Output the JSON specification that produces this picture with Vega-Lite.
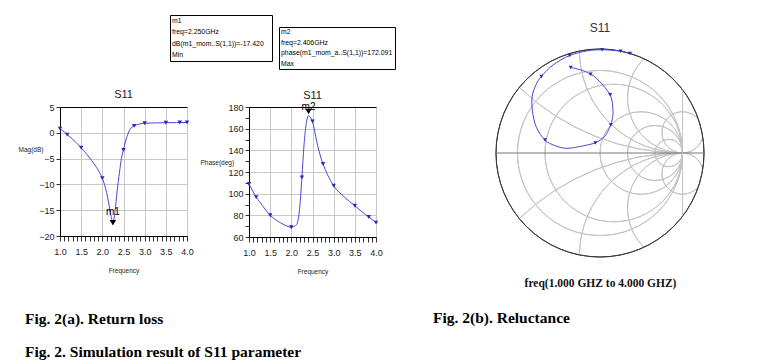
{
  "$schema": "https://vega.github.io/schema/vega-lite/v6.json",
  "background": "white",
  "padding": {"left": 18, "top": 14, "right": 0, "bottom": 0},
  "datasets": {
    "s11": [
      {"f": 1.0, "db": 0.8, "ph": 108.9, "re": -0.355, "im": 1.037, "mk": 1},
      {"f": 1.1, "db": 0.15, "ph": 101.5, "re": -0.203, "im": 0.997, "mk": 0},
      {"f": 1.17, "db": -0.36, "ph": 96.8, "re": -0.114, "im": 0.953, "mk": 1},
      {"f": 1.25, "db": -0.9, "ph": 92.5, "re": -0.039, "im": 0.901, "mk": 0},
      {"f": 1.5, "db": -2.9, "ph": 80.1, "re": 0.123, "im": 0.705, "mk": 1},
      {"f": 1.75, "db": -5.4, "ph": 73.0, "re": 0.157, "im": 0.514, "mk": 0},
      {"f": 1.9, "db": -7.2, "ph": 70.0, "re": 0.149, "im": 0.41, "mk": 0},
      {"f": 2.0, "db": -8.8, "ph": 69.0, "re": 0.13, "im": 0.339, "mk": 1},
      {"f": 2.05, "db": -10.0, "ph": 69.5, "re": 0.111, "im": 0.296, "mk": 0},
      {"f": 2.1, "db": -11.6, "ph": 70.5, "re": 0.088, "im": 0.248, "mk": 0},
      {"f": 2.15, "db": -13.6, "ph": 74.0, "re": 0.058, "im": 0.201, "mk": 0},
      {"f": 2.2, "db": -15.9, "ph": 88.0, "re": 0.006, "im": 0.16, "mk": 0},
      {"f": 2.25, "db": -17.42, "ph": 115.0, "re": -0.057, "im": 0.122, "mk": 1, "lab": "m1"},
      {"f": 2.3, "db": -15.2, "ph": 145.0, "re": -0.142, "im": 0.1, "mk": 0},
      {"f": 2.35, "db": -11.3, "ph": 164.0, "re": -0.262, "im": 0.075, "mk": 0},
      {"f": 2.406, "db": -7.6, "ph": 172.091, "re": -0.413, "im": 0.057, "mk": 0, "lab": "m2"},
      {"f": 2.45, "db": -5.0, "ph": 170.5, "re": -0.555, "im": 0.093, "mk": 0},
      {"f": 2.5, "db": -3.3, "ph": 166.7, "re": -0.666, "im": 0.157, "mk": 1},
      {"f": 2.55, "db": -1.6, "ph": 158.0, "re": -0.771, "im": 0.312, "mk": 0},
      {"f": 2.6, "db": -0.3, "ph": 148.0, "re": -0.819, "im": 0.512, "mk": 0},
      {"f": 2.65, "db": 0.6, "ph": 140.0, "re": -0.821, "im": 0.689, "mk": 0},
      {"f": 2.7, "db": 1.1, "ph": 133.0, "re": -0.774, "im": 0.83, "mk": 0},
      {"f": 2.75, "db": 1.35, "ph": 127.4, "re": -0.71, "im": 0.928, "mk": 1},
      {"f": 2.85, "db": 1.65, "ph": 118.0, "re": -0.568, "im": 1.067, "mk": 0},
      {"f": 3.0, "db": 1.85, "ph": 107.3, "re": -0.368, "im": 1.181, "mk": 1},
      {"f": 3.25, "db": 1.92, "ph": 97.0, "re": -0.152, "im": 1.238, "mk": 0},
      {"f": 3.5, "db": 1.95, "ph": 88.8, "re": 0.026, "im": 1.251, "mk": 1},
      {"f": 3.75, "db": 1.98, "ph": 80.8, "re": 0.201, "im": 1.24, "mk": 0},
      {"f": 3.83, "db": 2.0, "ph": 78.5, "re": 0.251, "im": 1.234, "mk": 1},
      {"f": 4.0, "db": 2.0, "ph": 73.3, "re": 0.362, "im": 1.206, "mk": 1}
    ],
    "boxes": [
      {"box": "m1", "i": 0, "t": "m1"},
      {"box": "m1", "i": 1, "t": "freq=2.250GHz"},
      {"box": "m1", "i": 2, "t": "dB(m1_mom..S(1,1))=-17.420"},
      {"box": "m1", "i": 3, "t": "Min"},
      {"box": "m2", "i": 0, "t": "m2"},
      {"box": "m2", "i": 1, "t": "freq=2.406GHz"},
      {"box": "m2", "i": 2, "t": "phase(m1_mom_a..S(1,1))=172.091"},
      {"box": "m2", "i": 3, "t": "Max"}
    ],
    "smithgrid": [
      {"re": 0, "im": 0, "rad": 1, "t1": 0, "t2": 360, "kind": "grid"},
      {"re": 0.1667, "im": 0, "rad": 0.8333, "t1": 0, "t2": 360, "kind": "grid"},
      {"re": 0.5, "im": 0, "rad": 0.5, "t1": 0, "t2": 360, "kind": "grid"},
      {"re": 0.6667, "im": 0, "rad": 0.3333, "t1": 0, "t2": 360, "kind": "grid"},
      {"re": 0.8333, "im": 0, "rad": 0.1667, "t1": 0, "t2": 360, "kind": "grid"},
      {"re": 1, "im": 2.857, "rad": 2.857, "t1": 180, "t2": 223.6, "kind": "grid"},
      {"re": 1, "im": -2.857, "rad": 2.857, "t1": 316.4, "t2": 360, "kind": "grid"},
      {"re": 1, "im": 1.25, "rad": 1.25, "t1": 180, "t2": 268.8, "kind": "grid"},
      {"re": 1, "im": -1.25, "rad": 1.25, "t1": 271.2, "t2": 360, "kind": "grid"},
      {"re": 1, "im": 0.6667, "rad": 0.6667, "t1": 180, "t2": 314.5, "kind": "grid"},
      {"re": 1, "im": -0.6667, "rad": 0.6667, "t1": 225.5, "t2": 360, "kind": "grid"},
      {"re": 1, "im": 0.25, "rad": 0.25, "t1": 108, "t2": 404.7, "kind": "grid"},
      {"re": 1, "im": -0.25, "rad": 0.25, "t1": 135.3, "t2": 432, "kind": "grid"},
      {"re": 0, "im": 0, "rad": 1.26, "t1": 0, "t2": 360, "kind": "edge"}
    ],
    "smithlines": [
      {"re": -1.26, "re2": 1.26, "im": 0, "im2": 0, "kind": "axis"},
      {"re": 1, "re2": 1, "im": -0.76, "im2": 0.76, "kind": "grid"}
    ]
  },
  "title": {"text": "Fig. 2. Simulation result of S11 parameter", "orient": "bottom", "anchor": "start", "dx": 7, "offset": 18, "font": "Liberation Serif", "fontWeight": "bold", "fontSize": 15.5, "color": "#000"},
  "spacing": 37,
  "hconcat": [
    {
      "title": {"text": "Fig. 2(a). Return loss", "orient": "bottom", "anchor": "start", "dx": 7, "offset": 37, "font": "Liberation Serif", "fontWeight": "bold", "fontSize": 15.5, "color": "#000"},
      "spacing": 19,
      "vconcat": [
        {
          "spacing": 5,
          "hconcat": [
            {"data": {"values": []}, "mark": "point", "width": 104, "height": 46},
            {
              "width": 102, "height": 46,
              "view": {"stroke": "#000", "strokeWidth": 1},
              "data": {"name": "boxes"},
              "transform": [{"filter": "datum.box == 'm1'"}],
              "mark": {"type": "text", "align": "left", "baseline": "middle", "dx": 2, "fontSize": 6.9, "font": "Liberation Sans", "color": "#000"},
              "encoding": {
                "x": {"datum": 0, "type": "quantitative", "scale": {"domain": [0, 1]}, "axis": null},
                "y": {"field": "i", "type": "ordinal", "scale": {"type": "point", "padding": 0.5}, "axis": null},
                "text": {"field": "t"}
              }
            },
            {
              "spacing": 0,
              "bounds": "flush",
              "vconcat": [
                {"data": {"values": []}, "mark": "point", "width": 116, "height": 12},
                {
                  "width": 116, "height": 42,
                  "view": {"stroke": "#000", "strokeWidth": 1},
                  "data": {"name": "boxes"},
                  "transform": [{"filter": "datum.box == 'm2'"}],
                  "mark": {"type": "text", "align": "left", "baseline": "middle", "dx": 2, "fontSize": 6.9, "font": "Liberation Sans", "color": "#000"},
                  "encoding": {
                    "x": {"datum": 0, "type": "quantitative", "scale": {"domain": [0, 1]}, "axis": null},
                    "y": {"field": "i", "type": "ordinal", "scale": {"type": "point", "padding": 0.5}, "axis": null},
                    "text": {"field": "t"}
                  }
                }
              ]
            }
          ]
        },
        {
          "spacing": 62,
          "bounds": "flush",
          "hconcat": [
            {
              "width": 127, "height": 129,
              "data": {"name": "s11"},
              "title": {"text": "S11", "frame": "group", "offset": 3, "fontSize": 11, "fontWeight": "normal", "color": "#222"},
              "encoding": {
                "x": {"field": "f", "type": "quantitative", "scale": {"domain": [1, 4], "nice": false, "zero": false},
                  "axis": {"values": [1,1.1,1.2,1.3,1.4,1.5,1.6,1.7,1.8,1.9,2,2.1,2.2,2.3,2.4,2.5,2.6,2.7,2.8,2.9,3,3.1,3.2,3.3,3.4,3.5,3.6,3.7,3.8,3.9,4],
                    "labelExpr": "abs(datum.value*2 - round(datum.value*2)) < 0.01 ? format(datum.value, '.1f') : ''",
                    "labelOverlap": false, "labelFlush": false, "tickSize": 5, "labelPadding": 6,
                    "grid": true, "gridOpacity": {"condition": {"test": "abs(datum.value*2 - round(datum.value*2)) > 0.01", "value": 0}, "value": 1},
                    "title": "Frequency", "titlePadding": 11}},
                "y": {"field": "db", "type": "quantitative", "scale": {"domain": [-20, 5], "nice": false, "zero": false},
                  "axis": {"values": [-20, -15, -10, -5, 0, 5], "labelFlush": false, "tickSize": 4, "labelPadding": 2,
                    "grid": true, "gridColor": {"condition": {"test": "datum.value == 5", "value": "#000"}, "value": "#c8c8c8"},
                    "title": "Mag(dB)", "titleAngle": 0, "titleAlign": "left", "titleBaseline": "middle", "titleX": -42, "titleY": 42}}
              },
              "layer": [
                {"mark": {"type": "line", "color": "#4848d8", "strokeWidth": 1, "interpolate": "monotone"}, "encoding": {}},
                {"transform": [{"filter": "datum.mk == 1"}], "mark": {"type": "point", "shape": "triangle-down", "filled": true, "color": "#2a2ab8", "size": 20, "opacity": 1}},
                {"transform": [{"filter": "datum.lab == 'm1'"}], "mark": {"type": "point", "shape": "triangle-down", "filled": true, "color": "#000", "size": 40, "opacity": 1}},
                {"transform": [{"filter": "datum.lab == 'm1'"}], "mark": {"type": "text", "baseline": "bottom", "dy": -6, "fontSize": 10, "color": "#000"}, "encoding": {"text": {"field": "lab"}}}
              ]
            },
            {
              "width": 127, "height": 130,
              "data": {"name": "s11"},
              "title": {"text": "S11", "frame": "group", "offset": 1, "fontSize": 11, "fontWeight": "normal", "color": "#222"},
              "encoding": {
                "x": {"field": "f", "type": "quantitative", "scale": {"domain": [1, 4], "nice": false, "zero": false},
                  "axis": {"values": [1,1.1,1.2,1.3,1.4,1.5,1.6,1.7,1.8,1.9,2,2.1,2.2,2.3,2.4,2.5,2.6,2.7,2.8,2.9,3,3.1,3.2,3.3,3.4,3.5,3.6,3.7,3.8,3.9,4],
                    "labelExpr": "abs(datum.value*2 - round(datum.value*2)) < 0.01 ? format(datum.value, '.1f') : ''",
                    "labelOverlap": false, "labelFlush": false, "tickSize": 5, "labelPadding": 6,
                    "grid": true, "gridOpacity": {"condition": {"test": "abs(datum.value*2 - round(datum.value*2)) > 0.01", "value": 0}, "value": 1},
                    "title": "Frequency", "titlePadding": 11}},
                "y": {"field": "ph", "type": "quantitative", "scale": {"domain": [60, 180], "nice": false, "zero": false},
                  "axis": {"values": [60,70,80,90,100,110,120,130,140,150,160,170,180],
                    "labelExpr": "datum.value % 20 == 0 ? datum.label : ''",
                    "labelOverlap": false, "labelFlush": false, "tickSize": 4, "labelPadding": 2,
                    "grid": true, "gridOpacity": {"condition": {"test": "datum.value % 20 != 0", "value": 0}, "value": 1},
                    "gridColor": {"condition": {"test": "datum.value == 180", "value": "#000"}, "value": "#c8c8c8"},
                    "title": "Phase(deg)", "titleAngle": 0, "titleAlign": "left", "titleBaseline": "middle", "titleX": -49, "titleY": 55}}
              },
              "layer": [
                {"mark": {"type": "line", "color": "#4848d8", "strokeWidth": 1, "interpolate": "monotone"}, "encoding": {}},
                {"transform": [{"filter": "datum.mk == 1"}], "mark": {"type": "point", "shape": "triangle-down", "filled": true, "color": "#2a2ab8", "size": 20, "opacity": 1}},
                {"transform": [{"filter": "datum.lab == 'm2'"}], "mark": {"type": "point", "shape": "triangle-down", "filled": true, "color": "#000", "size": 40, "opacity": 1, "yOffset": -4}},
                {"transform": [{"filter": "datum.lab == 'm2'"}], "mark": {"type": "text", "baseline": "bottom", "dy": -4, "fontSize": 10, "color": "#000"}, "encoding": {"text": {"field": "lab"}}}
              ]
            }
          ]
        }
      ]
    },
    {
      "title": {"text": "Fig. 2(b). Reluctance", "orient": "bottom", "anchor": "start", "dx": -61, "offset": 22, "font": "Liberation Serif", "fontWeight": "bold", "fontSize": 15.5, "color": "#000"},
      "spacing": 0,
      "bounds": "flush",
      "vconcat": [
        {"data": {"values": []}, "mark": "point", "width": 208, "height": 34},
        {
          "width": 208, "height": 208,
          "title": {"text": "S11", "frame": "group", "offset": 12, "fontSize": 12, "fontWeight": "normal", "color": "#333"},
          "encoding": {
            "x": {"field": "re", "type": "quantitative", "scale": {"domain": [-1.26, 1.26], "nice": false, "zero": false},
              "axis": {"title": "freq(1.000 GHZ to 4.000 GHZ)", "domain": false, "ticks": false, "labels": false, "grid": false,
                "titleFont": "Liberation Serif", "titleFontWeight": "bold", "titleFontSize": 11.5, "titleColor": "#111", "titlePadding": 20}},
            "y": {"field": "im", "type": "quantitative", "scale": {"domain": [-1.26, 1.26], "nice": false, "zero": false}, "axis": null}
          },
          "layer": [
            {
              "data": {"name": "smithgrid"},
              "mark": {"type": "arc", "filled": false, "strokeWidth": 1},
              "encoding": {
                "radius": {"field": "rad", "type": "quantitative", "scale": {"type": "linear", "domain": [0, 1.26], "range": [0, 104], "zero": true}},
                "radius2": {"field": "rad"},
                "theta": {"field": "t1", "type": "quantitative", "stack": null, "scale": {"type": "linear", "domain": [0, 360], "range": [0, 6.283185307179586]}},
                "theta2": {"field": "t2"},
                "stroke": {"field": "kind", "type": "nominal", "scale": {"domain": ["grid", "edge", "axis"], "range": ["#c4c4c4", "#3a3a3a", "#777777"]}, "legend": null}
              }
            },
            {
              "data": {"name": "smithlines"},
              "mark": {"type": "rule", "strokeWidth": 1},
              "encoding": {
                "x2": {"field": "re2"},
                "y2": {"field": "im2"},
                "stroke": {"field": "kind", "type": "nominal", "scale": {"domain": ["grid", "edge", "axis"], "range": ["#c4c4c4", "#3a3a3a", "#777777"]}, "legend": null}
              }
            },
            {
              "data": {"name": "s11"},
              "mark": {"type": "line", "color": "#4848d8", "strokeWidth": 1, "interpolate": "cardinal"},
              "encoding": {"order": {"field": "f", "type": "quantitative"}}
            },
            {
              "data": {"name": "s11"},
              "transform": [{"filter": "datum.mk == 1"}],
              "mark": {"type": "point", "shape": "triangle-down", "filled": true, "color": "#2a2ab8", "size": 16, "opacity": 1}
            }
          ]
        }
      ]
    }
  ],
  "config": {
    "view": {"stroke": null},
    "font": "Liberation Sans",
    "text": {"font": "Liberation Sans"},
    "title": {"font": "Liberation Sans"},
    "axis": {
      "labelFont": "Liberation Sans",
      "titleFont": "Liberation Sans",
      "labelFontSize": 9, "titleFontSize": 6.5, "titleFontWeight": "normal",
      "labelColor": "#222", "titleColor": "#222",
      "domainColor": "#000", "tickColor": "#333", "gridColor": "#c8c8c8"
    }
  }
}
